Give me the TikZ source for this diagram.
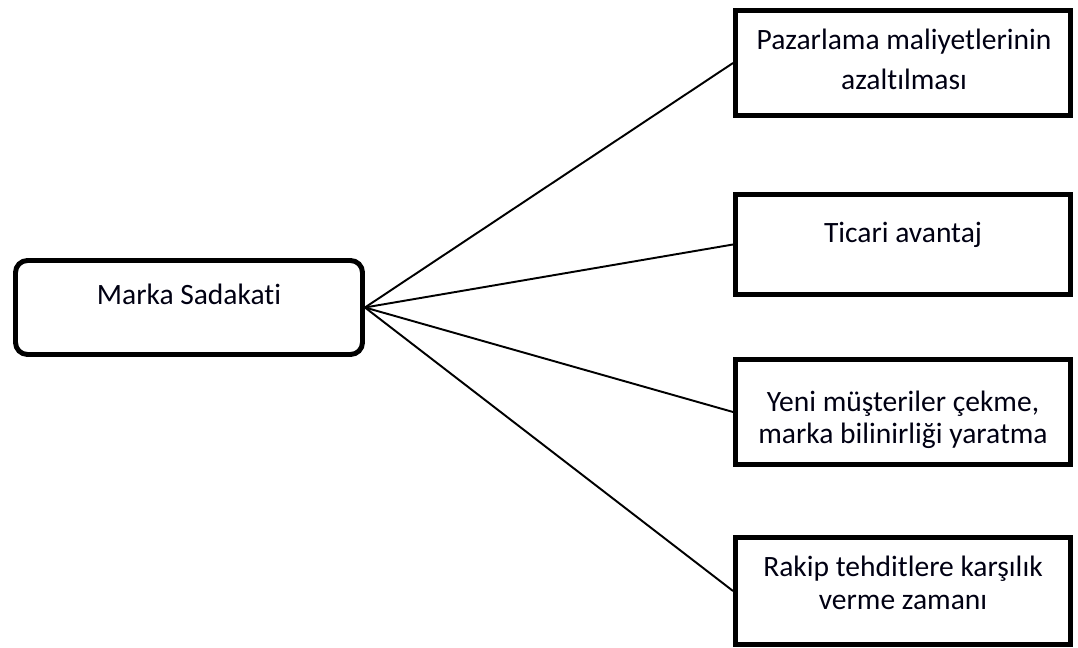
\documentclass[tikz,border=0pt]{standalone}
\usepackage{fontspec}
\setmainfont{Carlito}[Ligatures=NoCommon]
\usetikzlibrary{positioning}

\begin{document}
\begin{tikzpicture}[
    roundbox/.style={rectangle, draw=black, line width=2.8pt, rounded corners=0.24cm, minimum width=6.94cm, minimum height=1.88cm},
    effectbox/.style={rectangle, draw=black, line width=2.8pt, minimum width=6.7cm},
    boxtext/.style={align=center, text=black!93!blue, font=\fontsize{16.8}{18.4}\selectfont, inner sep=0pt},
    link/.style={line width=1.1pt},
    ]
    \useasboundingbox (0,0) rectangle (21.56,12.96);

    %Boxes
    \node[roundbox]                         (loyal) at (3.78,6.81)  {};
    \node[effectbox, minimum height=2.1cm]  (cost)  at (18.06,11.70) {};
    \node[effectbox, minimum height=2.0cm]  (trade) at (18.06,8.07)  {};
    \node[effectbox, minimum height=2.1cm]  (newc)  at (18.06,4.72)  {};
    \node[effectbox, minimum height=2.14cm] (rival) at (18.06,1.14)  {};

    %Texts
    \node[boxtext] (loyaltxt) at (3.78,7.08)  {Marka Sadakati};
    \node[boxtext] (costtxt)  at (18.08,11.77) {Pazarlama maliyetlerinin\\[4pt]azaltılması};
    \node[boxtext] (tradetxt) at (18.06,8.26)  {Ticari avantaj};
    \node[boxtext] (newctxt)  at (18.06,4.56)  {Yeni müşteriler çekme,\\marka bilinirliği yaratma};
    \node[boxtext] (rivaltxt) at (18.06,1.30)  {Rakip tehditlere karşılık\\verme zamanı};

    %Lines
    \draw[link] (loyal.east) -- (cost.west);
    \draw[link] (loyal.east) -- (trade.west);
    \draw[link] (loyal.east) -- (newc.west);
    \draw[link] (loyal.east) -- (rival.west);
\end{tikzpicture}
\end{document}
